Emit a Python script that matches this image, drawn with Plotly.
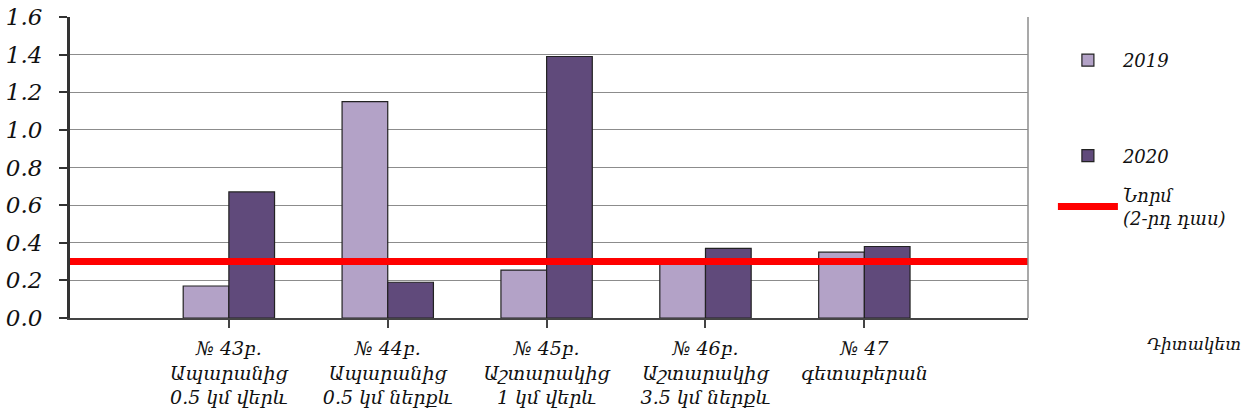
import plotly.graph_objects as go

categories = [
    "№ 43բ.<br>Ապարանից<br>0.5 կմ վերև",
    "№ 44բ.<br>Ապարանից<br>0.5 կմ ներքև",
    "№ 45բ.<br>Աշտարակից<br>1 կմ վերև",
    "№ 46բ.<br>Աշտարակից<br>3.5 կմ ներքև",
    "№ 47<br>գետաբերան",
]
values_2019 = [0.17, 1.15, 0.255, 0.30, 0.35]
values_2020 = [0.67, 0.19, 1.39, 0.37, 0.38]
norm_value = 0.3
norm_label = "Նորմ<br>(2-րդ դաս)"
x_title = "Դիտակետ"
y_ticks = [0.0, 0.2, 0.4, 0.6, 0.8, 1.0, 1.2, 1.4, 1.6]

positions = list(range(len(categories)))
X_MIN, X_MAX = -1.0, 5.03

FONT = dict(family="DejaVu Serif, DejaVu Sans, serif", style="italic", color="#111111")

fig = go.Figure()
fig.add_trace(go.Bar(
    x=positions, y=values_2019, name="2019",
    marker=dict(color="#B3A2C7", line=dict(color="#222222", width=1.2)),
    legend="legend", legendgroup="a",
))
fig.add_trace(go.Bar(
    x=positions, y=values_2020, name="2020",
    marker=dict(color="#604A7B", line=dict(color="#222222", width=1.2)),
    legend="legend", legendgroup="b",
))
fig.add_trace(go.Scatter(
    x=[X_MIN, X_MAX], y=[norm_value, norm_value], mode="lines",
    name=norm_label, line=dict(color="#FF0000", width=7),
    legend="legend2",
))

fig.update_layout(
    width=1250, height=419,
    margin=dict(l=70, r=222, t=17, b=101, autoexpand=False),
    paper_bgcolor="white", plot_bgcolor="white",
    font=dict(size=18, **FONT),
    barmode="group", bargap=0.425, bargroupgap=0,
    showlegend=True,
    legend=dict(
        x=1.026, y=0.917, xanchor="left", yanchor="top",
        tracegroupgap=69, itemwidth=60, font=dict(size=18, **FONT),
        bgcolor="rgba(0,0,0,0)",
    ),
    legend2=dict(
        x=1.026, y=0.47, xanchor="left", yanchor="top",
        itemwidth=60, font=dict(size=18, **FONT),
        bgcolor="rgba(0,0,0,0)",
    ),
    xaxis=dict(
        range=[X_MIN, X_MAX], tickvals=positions, ticktext=categories,
        ticks="outside", ticklen=8, tickcolor="#444444", tickwidth=1.5,
        showline=True, linecolor="#444444", linewidth=2,
        showgrid=False, zeroline=False, automargin=False,
        ticklabelstandoff=4,
        tickfont=dict(size=19, **FONT),
    ),
    yaxis=dict(
        range=[0, 1.6], tickvals=y_ticks, tickformat=".1f",
        ticks="outside", ticklen=8, tickcolor="#333333", tickwidth=1.5,
        showline=True, linecolor="#333333", linewidth=3,
        showgrid=True, gridcolor="#8c8c8c", gridwidth=1,
        zeroline=False, ticklabelstandoff=12, automargin=False,
        tickfont=dict(size=23, **FONT),
    ),
    shapes=[
        dict(type="line", xref="paper", yref="paper", x0=1, x1=1, y0=0, y1=1,
             line=dict(color="#8c8c8c", width=1.5)),
    ],
    annotations=[
        dict(text=x_title, xref="paper", yref="paper", x=1.2244, y=-0.045,
             xanchor="right", yanchor="top", showarrow=False,
             font=dict(size=17, **FONT)),
    ],
)

fig.write_html("out.html")
